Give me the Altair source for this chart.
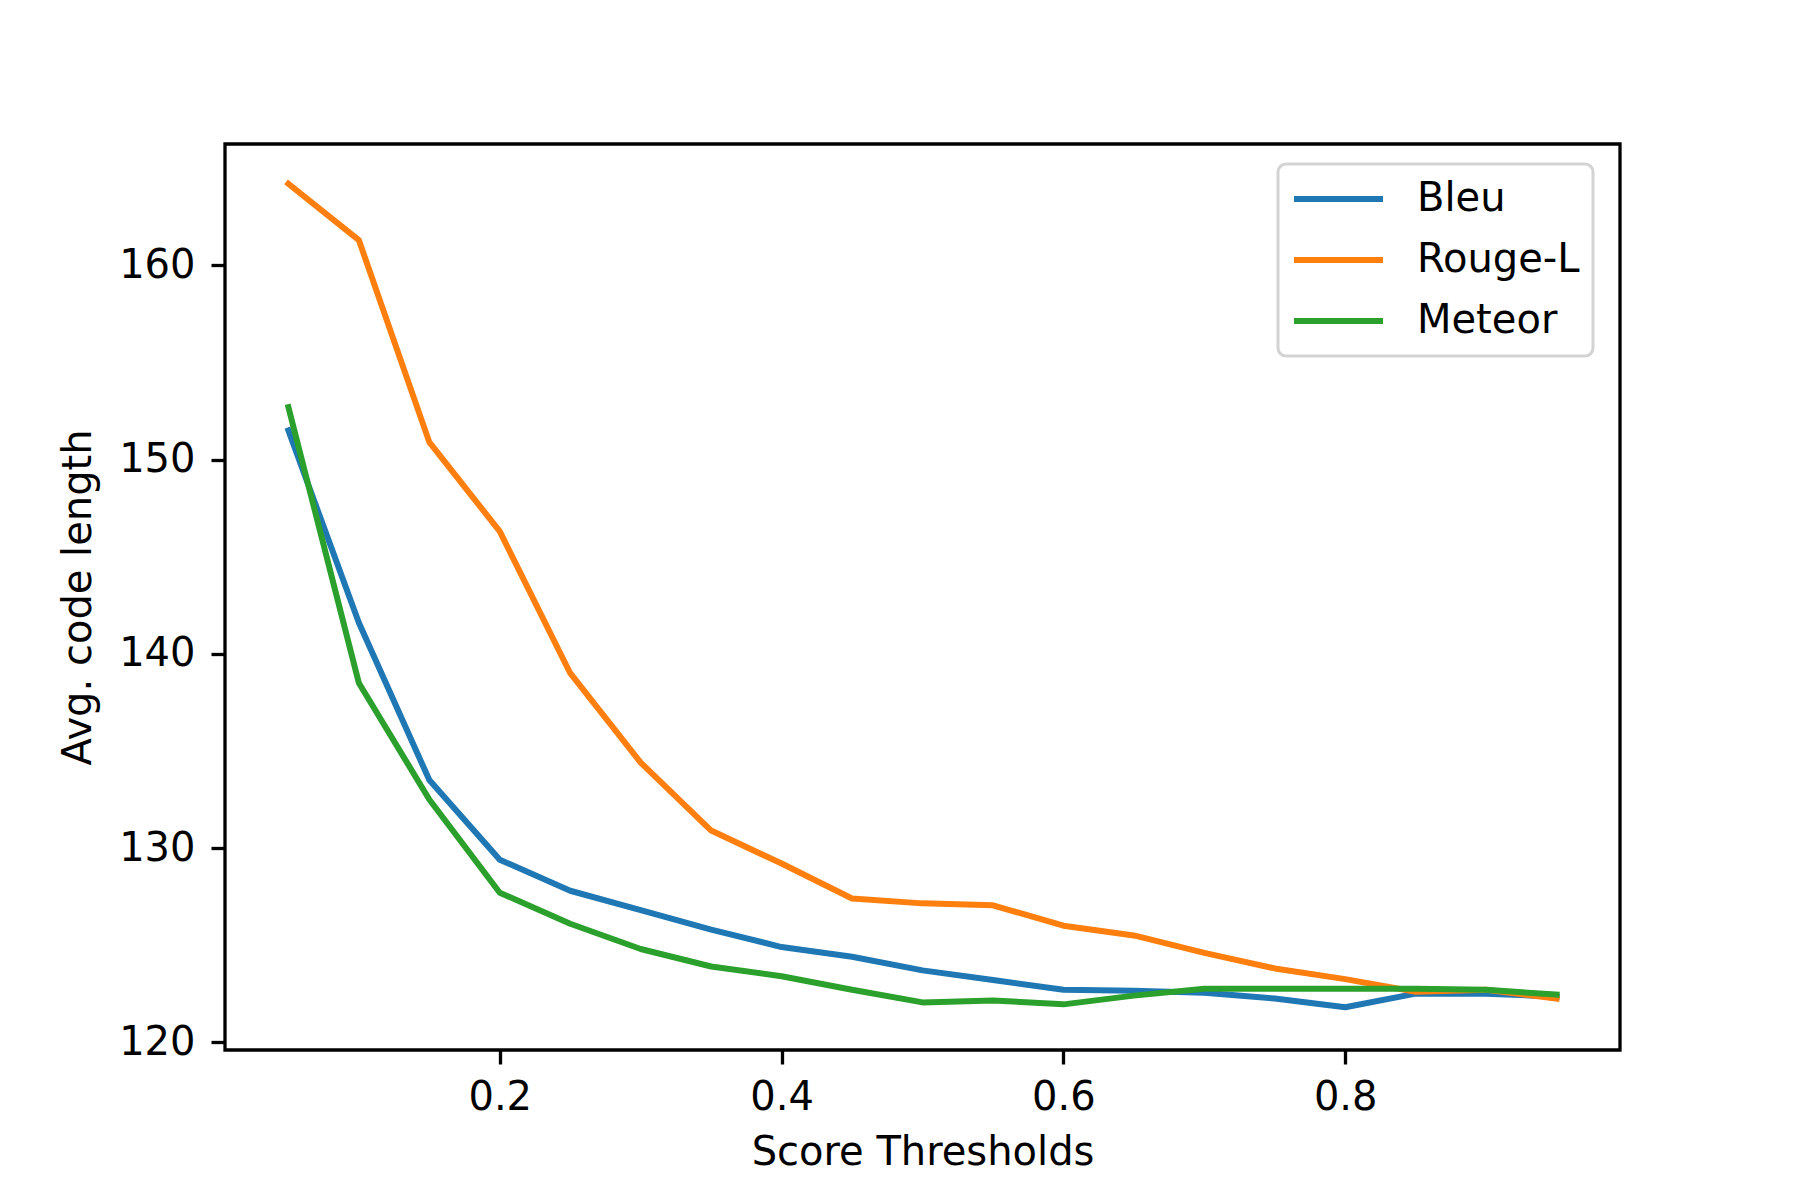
import altair as alt
import pandas as pd

thresholds = [0.05, 0.10, 0.15, 0.20, 0.25, 0.30, 0.35, 0.40, 0.45, 0.50,
              0.55, 0.60, 0.65, 0.70, 0.75, 0.80, 0.85, 0.90, 0.95]
bleu = [151.5, 141.6, 133.5, 129.4, 127.8, 126.8, 125.8, 124.9, 124.4, 123.7,
        123.2, 122.7, 122.65, 122.55, 122.25, 121.8, 122.5, 122.5, 122.35]
rouge_l = [164.2, 161.3, 150.9, 146.3, 139.0, 134.4, 130.9, 129.2, 127.4, 127.15,
           127.05, 126.0, 125.5, 124.6, 123.8, 123.25, 122.6, 122.7, 122.25]
meteor = [152.7, 138.5, 132.5, 127.7, 126.1, 124.8, 123.9, 123.4, 122.7, 122.05,
          122.15, 121.95, 122.4, 122.75, 122.75, 122.75, 122.75, 122.7, 122.45]

series_names = ["Bleu", "Rouge-L", "Meteor"]
series_colors = ["#1f77b4", "#ff7f0e", "#2ca02c"]
x_ticks = [0.2, 0.4, 0.6, 0.8]
y_ticks = [120, 130, 140, 150, 160]

rows = []
for name, vals in zip(series_names, [bleu, rouge_l, meteor]):
    for t, v in zip(thresholds, vals):
        rows.append({"threshold": t, "length": v, "metric": name})
df = pd.DataFrame(rows)

FONT = "DejaVu Sans"

chart = alt.Chart(df).mark_line(
    strokeWidth=6, strokeCap="square", strokeJoin="round"
).encode(
    x=alt.X("threshold:Q",
            scale=alt.Scale(domain=[0.005, 0.995], nice=False, zero=False),
            axis=alt.Axis(values=x_ticks, format=".1f", title="Score Thresholds",
                          titleY=102, titleBaseline="middle")),
    y=alt.Y("length:Q",
            scale=alt.Scale(domain=[119.6, 166.25], nice=False, zero=False),
            axis=alt.Axis(values=y_ticks, format="d", title="Avg. code length",
                          titleX=-147, titleBaseline="middle")),
    color=alt.Color("metric:N",
                    scale=alt.Scale(domain=series_names, range=series_colors),
                    legend=alt.Legend(orient="none", legendX=1053, legendY=20,
                                      title=None, symbolType="stroke",
                                      symbolSize=7921, symbolStrokeWidth=6,
                                      labelFontSize=40, labelFont=FONT,
                                      labelColor="black", labelOffset=31,
                                      labelLimit=500, clipHeight=44,
                                      rowPadding=17,
                                      padding=13, strokeColor="#d3d3d3",
                                      fillColor="white", cornerRadius=8)),
    detail="metric:N",
).properties(
    width=1395,
    height=906,
    autosize=alt.AutoSizeParams(type="none"),
    padding={"left": 217, "top": 136, "right": 172, "bottom": 142},
).configure_view(
    stroke="black", strokeWidth=3.3
).configure_axis(
    grid=False, domain=False,
    labelFont=FONT, labelFontSize=40, labelColor="black",
    titleFont=FONT, titleFontSize=40, titleColor="black", titleFontWeight="normal",
    tickSize=14, tickWidth=3.3, tickColor="black", labelPadding=13,
).configure_axisY(
    labelPadding=16
).configure_legend(
    strokeWidth=3
)

chart.save("out.html", embed_options={"renderer": "svg", "actions": False})
